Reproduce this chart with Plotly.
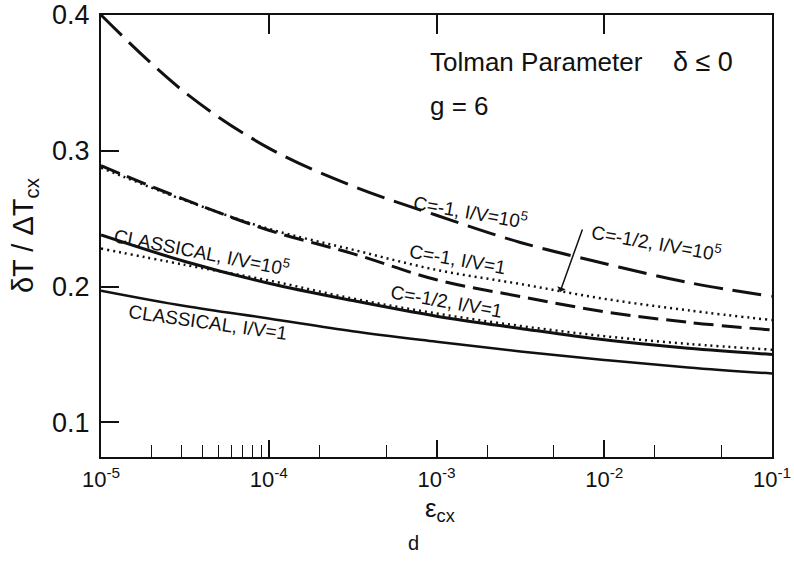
import plotly.graph_objects as go

# ---- data (log10 of eps_cx and read-off values) ----
log_eps = [-5, -4.5, -4, -3.5, -3, -2.5, -2, -1.5, -1]
eps = [10 ** v for v in log_eps]

c1_iv1e5 = [0.400, 0.343, 0.302, 0.274, 0.2525, 0.2325, 0.217, 0.203, 0.1928]
c1_iv1 = [0.289, 0.264, 0.2415, 0.2243, 0.205, 0.1927, 0.1815, 0.1737, 0.168]
ch_iv1e5 = [0.2875, 0.2635, 0.2425, 0.2272, 0.2123, 0.2019, 0.191, 0.1825, 0.1753]
ch_iv1 = [0.228, 0.216, 0.2045, 0.1912, 0.1802, 0.171, 0.1635, 0.1578, 0.1535]
cl_iv1e5 = [0.238, 0.2185, 0.2025, 0.1897, 0.1782, 0.1692, 0.1608, 0.1546, 0.150]
cl_iv1 = [0.197, 0.1857, 0.1765, 0.1671, 0.1594, 0.1522, 0.146, 0.1405, 0.136]

x_major = [1e-5, 1e-4, 1e-3, 1e-2, 1e-1]
x_major_text = ["10<sup>-5</sup>", "10<sup>-4</sup>", "10<sup>-3</sup>", "10<sup>-2</sup>", "10<sup>-1</sup>"]
x_minor = [2e-5, 3e-5, 4e-5, 5e-5, 6e-5, 7e-5, 8e-5, 9e-5, 2e-4, 5e-4, 2e-3, 5e-3, 2e-2, 5e-2]
y_ticks = [0.1, 0.2, 0.3, 0.4]
y_tick_text = ["0.1", "0.2", "0.3", "0.4"]

FONT = "Liberation Sans"
BLACK = "#111111"

fig = go.Figure()

def add(y, dash, width, xaxis="x"):
    fig.add_trace(go.Scatter(
        x=eps, y=y, mode="lines", xaxis=xaxis,
        line=dict(color=BLACK, width=width, dash=dash, shape="spline", smoothing=1.0),
        showlegend=False, hoverinfo="skip"))

add(c1_iv1e5, "29px,10px", 3, xaxis="x2")
add(c1_iv1, "20px,8px", 3)
add(ch_iv1e5, "2px,4px", 2.5)
add(ch_iv1, "2px,4px", 2.5)
add(cl_iv1e5, None, 3)
add(cl_iv1, None, 2.5)

axis_common = dict(showgrid=False, zeroline=False, linecolor=BLACK, linewidth=2,
                   automargin=False)

fig.update_layout(
    width=794, height=573,
    margin=dict(l=101, r=22, t=15, b=116),
    paper_bgcolor="white", plot_bgcolor="white",
    font=dict(family=FONT, color=BLACK),
    xaxis=dict(type="log", range=[-5, -1], showline=True, mirror=True,
               tickmode="array", tickvals=x_major, ticktext=x_major_text,
               ticks="inside", ticklen=17, tickwidth=1.5, tickcolor=BLACK,
               ticklabelstandoff=2,
               tickfont=dict(size=22, family=FONT, color=BLACK),
               minor=dict(tickmode="array", tickvals=x_minor, ticks="inside",
                          ticklen=12, tickwidth=1.2, tickcolor=BLACK),
               **axis_common),
    xaxis2=dict(type="log", range=[-5, -1], overlaying="x", side="top", anchor="y",
                tickmode="array", tickvals=x_major[1:4], ticks="inside", ticklen=19,
                tickwidth=1.5, tickcolor=BLACK, showticklabels=False, showline=False,
                showgrid=False, zeroline=False, automargin=False),
    yaxis=dict(range=[0.0745, 0.4], showline=True, mirror=True,
               tickmode="array", tickvals=y_ticks, ticktext=y_tick_text,
               ticks="inside", ticklen=18, tickwidth=1.5, tickcolor=BLACK,
               ticklabelstandoff=4,
               tickfont=dict(size=27, family=FONT, color=BLACK),
               **axis_common),
)

ann = []
def lab(text, lx, y, angle, size=19):
    ann.append(dict(x=lx, y=y, xref="x", yref="y", text=text, showarrow=False,
                    xanchor="center", yanchor="middle",
                    textangle=angle, font=dict(size=size, family=FONT, color=BLACK)))

lab("C=-1, I/V=10<sup>5</sup>", -2.80, 0.2555, 10)
lab("C=-1/2, I/V=10<sup>5</sup>", -1.69, 0.2328, 10)
lab("C=-1, I/V=1", -2.872, 0.2200, 10)
lab("C=-1/2, I/V=1", -2.943, 0.1890, 10)
lab("CLASSICAL, I/V=10<sup>5</sup>", -4.40, 0.2262, 11)
lab("CLASSICAL, I/V=1", -4.362, 0.1738, 8)

# arrow for C=-1/2, I/V=1e5
ann.append(dict(x=-2.264, y=0.196, xref="x", yref="y", text="", showarrow=True,
                ax=23, ay=-64, arrowhead=1, arrowsize=1, arrowwidth=1.5,
                arrowcolor=BLACK))

ann.append(dict(x=-3.051, y=0.3657, xref="x", yref="y", xanchor="left", yanchor="middle",
                text="Tolman Parameter", showarrow=False,
                font=dict(size=26, family=FONT, color=BLACK)))
ann.append(dict(x=-1.60, y=0.3657, xref="x", yref="y", xanchor="left", yanchor="middle",
                text="δ ≤ 0", showarrow=False,
                font=dict(size=27, family=FONT, color=BLACK)))
ann.append(dict(x=-3.051, y=0.3332, xref="x", yref="y", xanchor="left", yanchor="middle",
                text="g = 6", showarrow=False,
                font=dict(size=26, family=FONT, color=BLACK)))

# axis titles
ann.append(dict(x=-0.1133, y=0.502, xref="paper", yref="paper", showarrow=False,
                xanchor="center", yanchor="middle",
                text="δT / ΔT<sub>cx</sub>", textangle=-90,
                font=dict(size=29, family=FONT, color=BLACK)))
ann.append(dict(x=0.505, y=-0.118, xref="paper", yref="paper", showarrow=False,
                xanchor="center", yanchor="middle",
                text="ε<sub>cx</sub>", font=dict(size=26, family=FONT, color=BLACK)))
ann.append(dict(x=0.465, y=-0.195, xref="paper", yref="paper", showarrow=False,
                xanchor="center", yanchor="middle",
                text="d", font=dict(size=20, family=FONT, color=BLACK)))

fig.update_layout(annotations=ann)
fig.write_html("out.html")
